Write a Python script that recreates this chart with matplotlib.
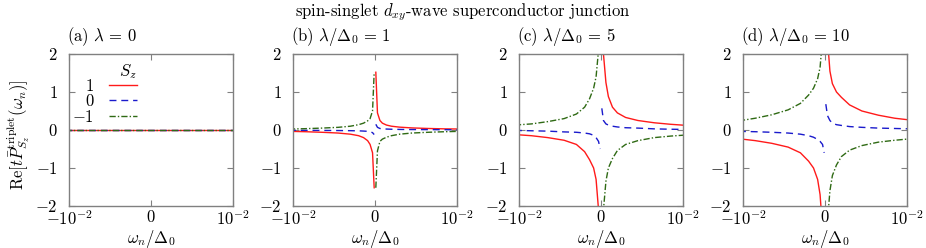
import numpy as np
import matplotlib
matplotlib.use("Agg")
import matplotlib.pyplot as plt

plt.rcParams["font.family"] = "serif"
plt.rcParams["font.serif"] = ["cmr10"]
plt.rcParams["mathtext.fontset"] = "cm"
plt.rcParams["axes.unicode_minus"] = False
plt.rcParams["font.size"] = 12

# Matsubara frequencies (|omega_n|/Delta_0) used for the curves
w_pos = np.array([0.0001, 0.0003, 0.0006, 0.0009, 0.0014, 0.002, 0.003, 0.0045, 0.0065, 0.0085, 0.0105])
w_neg = -w_pos[::-1]

# (a) lambda = 0 : everything vanishes
w_a = [-0.0105, 0.0105]
zero_a = [0.0, 0.0]

# (b) lambda/Delta_0 = 1
red_b_neg = [-0.035, -0.045, -0.06, -0.08, -0.11, -0.15, -0.2, -0.28, -0.38, -0.6, -1.52]
red_b_pos = [1.52, 0.45, 0.25, 0.18, 0.13, 0.1, 0.075, 0.055, 0.04, 0.03, 0.025]
blue_b_neg = [-0.007, -0.009, -0.011, -0.014, -0.018, -0.022, -0.028, -0.035, -0.045, -0.07, -0.12]
blue_b_pos = [0.15, 0.07, 0.04, 0.03, 0.025, 0.02, 0.015, 0.012, 0.01, 0.008, 0.006]
green_b_neg = [0.025, 0.035, 0.05, 0.07, 0.1, 0.14, 0.18, 0.24, 0.3, 0.5, 1.52]
green_b_pos = [-1.52, -0.55, -0.3, -0.24, -0.19, -0.15, -0.11, -0.08, -0.06, -0.045, -0.035]

# (c) lambda/Delta_0 = 5
red_c_neg = [-0.12, -0.15, -0.2, -0.27, -0.38, -0.57, -0.78, -1.0, -1.3, -2.1, -5.0]
red_c_pos = [5.0, 2.0, 1.25, 0.88, 0.6, 0.45, 0.33, 0.25, 0.19, 0.15, 0.12]
blue_c_neg = [-0.01, -0.02, -0.03, -0.05, -0.06, -0.08, -0.1, -0.14, -0.2, -0.3, -0.5]
blue_c_pos = [0.57, 0.25, 0.16, 0.13, 0.1, 0.08, 0.06, 0.05, 0.03, 0.02, 0.015]
green_c_neg = [0.13, 0.16, 0.22, 0.3, 0.42, 0.6, 0.82, 1.1, 1.4, 2.1, 5.0]
green_c_pos = [-5.0, -2.1, -1.35, -1.0, -0.75, -0.54, -0.38, -0.28, -0.2, -0.16, -0.13]

# (d) lambda/Delta_0 = 10
red_d_neg = [-0.23, -0.28, -0.35, -0.45, -0.6, -0.82, -1.0, -1.3, -1.7, -2.6, -6.0]
red_d_pos = [6.0, 2.4, 1.55, 1.22, 1.0, 0.86, 0.66, 0.5, 0.39, 0.31, 0.26]
blue_d_neg = [-0.035, -0.045, -0.06, -0.08, -0.11, -0.15, -0.19, -0.25, -0.3, -0.38, -0.6]
blue_d_pos = [0.68, 0.38, 0.25, 0.18, 0.14, 0.12, 0.09, 0.07, 0.05, 0.04, 0.03]
green_d_neg = [0.24, 0.31, 0.4, 0.53, 0.7, 0.92, 1.1, 1.35, 1.65, 2.4, 6.0]
green_d_pos = [-6.0, -2.4, -1.6, -1.2, -0.92, -0.7, -0.53, -0.41, -0.32, -0.27, -0.23]

titles = [r"(a) $\lambda\,=\,0$", r"(b) $\lambda/\Delta_0\,=\,1$",
          r"(c) $\lambda/\Delta_0\,=\,5$", r"(d) $\lambda/\Delta_0\,=\,10$"]
sz_labels = ["1", "0", "$-1$"]

red = "#ff1a1a"
blue = "#1a1acc"
green = "#2f6a14"
styles = [dict(color=red, ls="-"),
          dict(color=blue, dashes=(5, 3.5)),
          dict(color=green, dashes=(4.5, 1.5, 1, 1.5))]

panels = [
    None,
    [(red_b_neg, red_b_pos), (blue_b_neg, blue_b_pos), (green_b_neg, green_b_pos)],
    [(red_c_neg, red_c_pos), (blue_c_neg, blue_c_pos), (green_c_neg, green_c_pos)],
    [(red_d_neg, red_d_pos), (blue_d_neg, blue_d_pos), (green_d_neg, green_d_pos)],
]

fig = plt.figure(figsize=(9.26, 2.48), dpi=100)
lefts = [69, 293, 519, 743]
W, H = 926.0, 248.0

for i in range(4):
    ax = fig.add_axes([lefts[i] / W, 1 - 206 / H, 164 / W, 152 / H])
    if panels[i] is None:
        for k in range(3):
            ax.plot(w_a, zero_a, lw=1.0, label=sz_labels[k], **styles[k])
        leg = ax.legend(title="$S_z$", markerfirst=False, frameon=False,
                        loc="upper left", bbox_to_anchor=(-0.035, 1.0),
                        handlelength=1.65, handletextpad=0.95, labelspacing=0.0,
                        borderpad=0, alignment="right")
        leg.get_title().set_fontsize(12)
        leg._legend_box.sep = -2
    else:
        for k in range(3):
            neg, pos = panels[i][k]
            ax.plot(w_neg, neg, lw=1.0, **styles[k])
            ax.plot(w_pos, pos, lw=1.0, **styles[k])

    ax.set_xlim(-0.01, 0.01)
    ax.set_ylim(-2, 2)
    ax.set_xticks([-0.01, 0, 0.01])
    ax.set_xticklabels([r"$-10^{-2}$", r"$0$", r"$10^{-2}$"])
    ax.set_yticks([-2, -1, 0, 1, 2])
    ax.set_yticklabels([r"$-2$", r"$-1$", r"$0$", r"$1$", r"$2$"])
    ax.tick_params(direction="in", top=True, right=True, length=4, width=0.8,
                   color="#808080", labelsize=12)
    ax.tick_params(axis="x", pad=2)
    ax.tick_params(axis="y", pad=8)
    for s in ax.spines.values():
        s.set_color("#808080")
        s.set_linewidth(1.0)
    ax.set_xlabel(r"$\omega_n/\Delta_0$", labelpad=0)
    ax.text(-0.01, 1.04, titles[i], transform=ax.transAxes, ha="left", va="bottom")

fig.text(18 / W, 1 - 135 / H, r"$\mathrm{Re}[t\bar{P}^{\mathrm{triplet}}_{S_z}(\omega_n)]$",
         rotation=90, ha="center", va="center", fontsize=12)
fig.suptitle(r"spin-singlet $d_{xy}$-wave superconductor junction", x=0.5, y=1 - 12 / H,
             va="center", fontsize=12)

fig.savefig("out.png", dpi=100)
